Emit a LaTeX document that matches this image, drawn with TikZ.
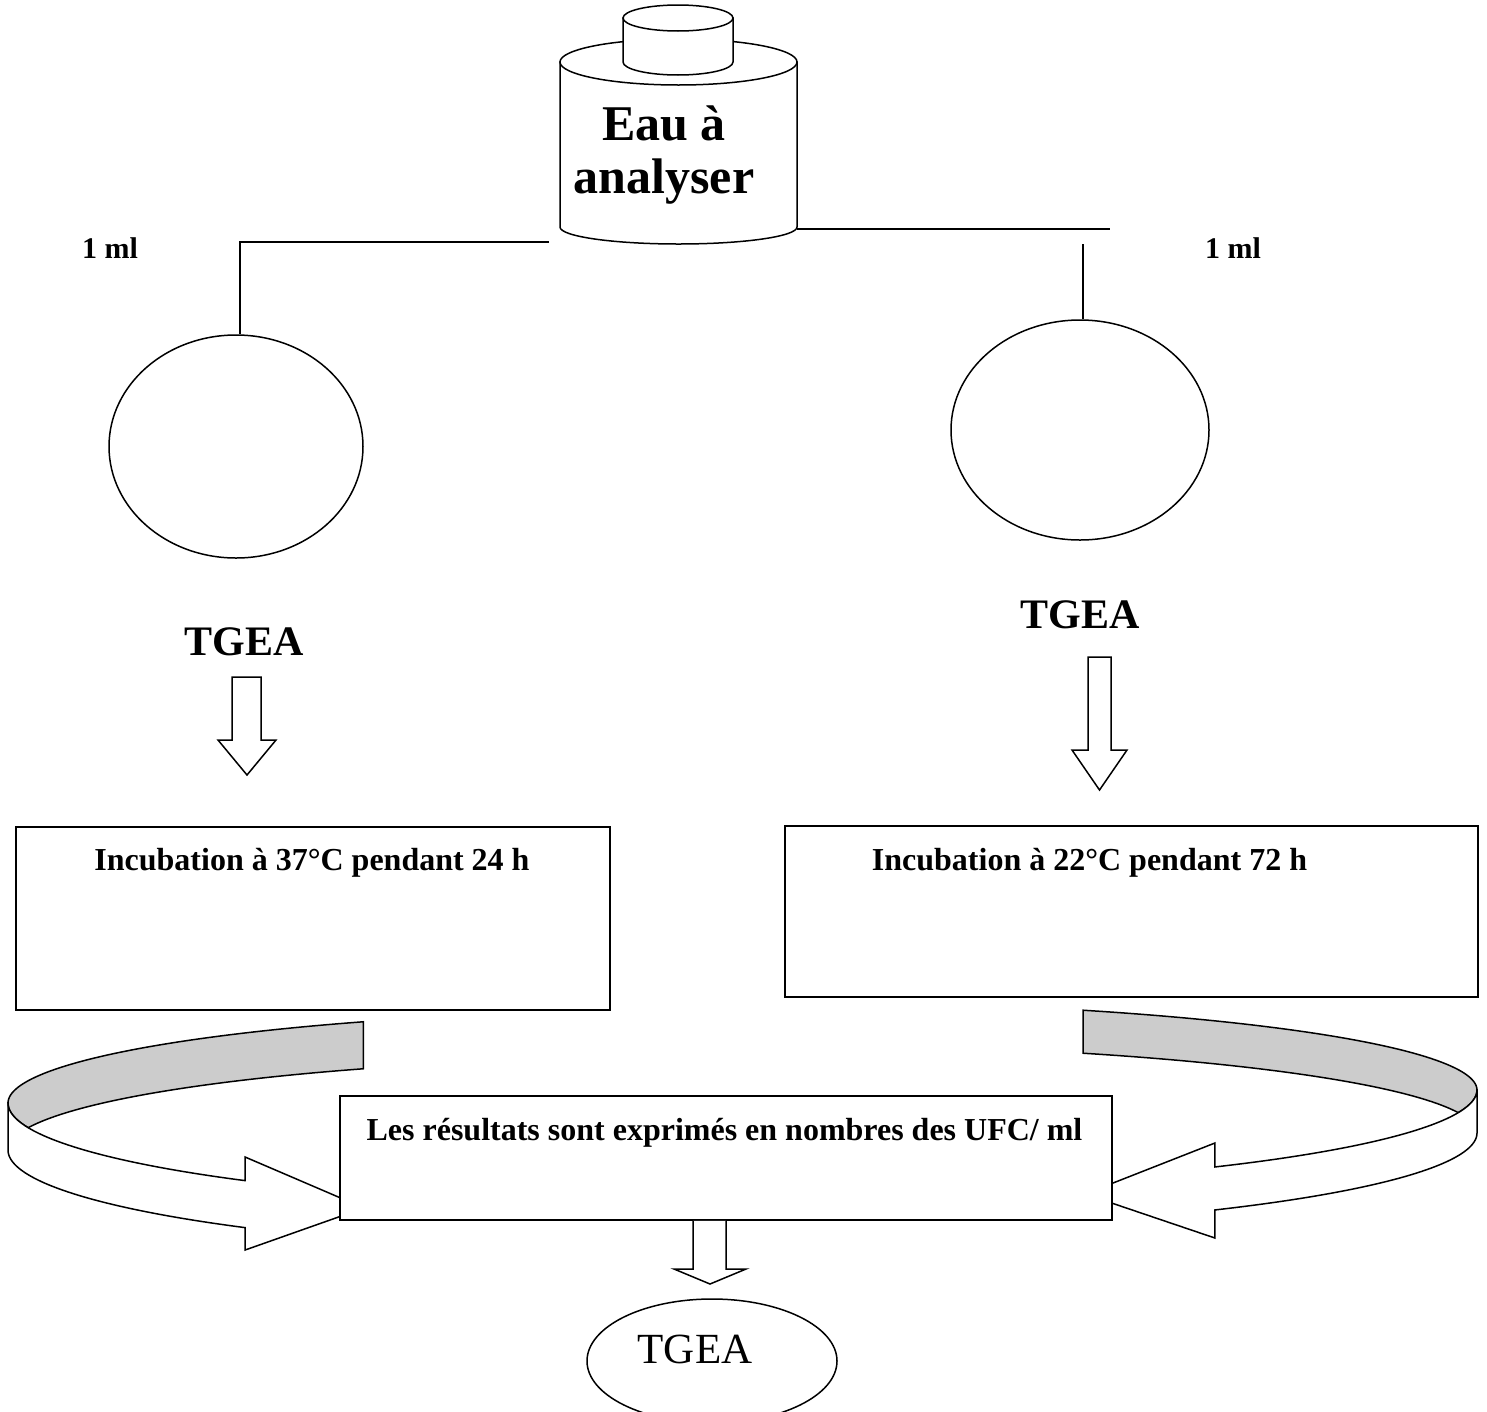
\documentclass[tikz,border=0pt]{standalone}
\usepackage{fontspec}
\setmainfont{Liberation Serif}
\usetikzlibrary{shapes.geometric}
\definecolor{ribgray}{RGB}{204,204,204}
\begin{document}
\begin{tikzpicture}[x=1pt,y=-1pt,line width=1.5pt,line join=miter,
  boxnode/.style={draw,fill=white,rectangle,inner sep=0pt},
  ovalnode/.style={draw,fill=white,ellipse,inner sep=0pt},
  lbl/.style={anchor=base,inner sep=0pt},
  hugeb/.style={font=\fontsize{50}{45}\selectfont\bfseries},
  bigb/.style={font=\fontsize{42}{46}\selectfont\bfseries},
  midb/.style={font=\fontsize{32}{36}\selectfont\bfseries},
  smallb/.style={font=\fontsize{30}{34}\selectfont\bfseries},
  bigr/.style={font=\fontsize{43}{48}\selectfont},
  blockarrow/.style={draw,fill=white},
  ribback/.style={draw,fill=ribgray},
  ribfront/.style={draw,fill=white}]
\useasboundingbox (0,0) rectangle (1487,1411);
\clip (0,0) rectangle (1487,1411);

% ---- bottle ----
\path[draw,fill=white] (560,62) -- (560,227)
  arc[start angle=180,end angle=360,x radius=118.5pt,y radius=17pt] -- (797,62) -- cycle;
\draw[fill=white] (678.5,62) ellipse [x radius=118.5pt,y radius=23pt];
\path[draw,fill=white] (623,18) -- (623,62)
  arc[start angle=180,end angle=360,x radius=55pt,y radius=13pt] -- (733,18) -- cycle;
\draw[fill=white] (678,18) ellipse [x radius=55pt,y radius=13pt];
\node[lbl,hugeb] (eau1) at (664,140) {Eau à};
\node[lbl,hugeb] (eau2) at (664,193) {analyser};

% ---- circles ----
\node[ovalnode,minimum width=254pt,minimum height=223pt] (c1) at (236,446.5) {};
\node[ovalnode,minimum width=258pt,minimum height=220pt] (c2) at (1080,430) {};

% ---- connectors from bottle ----
\coordinate (bl) at (549,242);
\coordinate (br0) at (797,229);
\coordinate (br) at (1110,229);
\coordinate (brv) at (1083,244);
\draw (bl) -| ([xshift=4pt]c1.north);
\draw (br0) -- (br);
\draw (brv) -- ([xshift=3pt]c2.north);

\node[lbl,smallb] (ml1) at (110,258) {1 ml};
\node[lbl,smallb] (ml2) at (1233,258) {1 ml};

% ---- TGEA labels ----
\node[lbl,bigb] (t1) at (244,655) {TGEA};
\node[lbl,bigb] (t2) at (1080,628) {TGEA};

% ---- block arrows ----
\path[blockarrow] (232,677) -- (232,740) -- (218,740) -- (247,775) -- (276,740) -- (261,740) -- (261,677) -- cycle;
\path[blockarrow] (1088,657) -- (1088,750) -- (1072,750) -- (1099.5,790) -- (1127,750) -- (1111,750) -- (1111,657) -- cycle;

% ---- incubation boxes ----
\node[boxnode,minimum width=594pt,minimum height=183pt] (r1) at (313,918.5) {};
\node[boxnode,minimum width=693pt,minimum height=171pt] (r2) at (1131.5,911.5) {};
\node[lbl,midb] (i1) at (312,870) {Incubation à 37°C pendant 24 h};
\node[lbl,midb] (i2) at (1089.5,870) {Incubation à 22°C pendant 72 h};

% ---- left curved ribbon arrow ----
\path[ribback]
  plot[domain=119.1:180,samples=50] ({700+692*cos(\x)},{1103-93*sin(\x)})
  -- plot[domain=180:193.9,samples=12] ({700+692*cos(\x)},{1103-103*sin(\x)})
  -- plot[domain=166.1:119.1,samples=50] ({700+692*cos(\x)},{1150-93*sin(\x)})
  -- cycle;
\path[ribfront] (8,1103) -- (8,1150)
  -- plot[domain=180:228.9,samples=50] ({700+692*cos(\x)},{1150-103*sin(\x)})
  -- (245.1,1250) -- (364,1208) -- (245.1,1157)
  -- plot[domain=228.9:180,samples=50] ({700+692*cos(\x)},{1103-103*sin(\x)})
  -- cycle;

% ---- right curved ribbon arrow ----
\path[ribback]
  plot[domain=63.7:0,samples=50] ({770+707*cos(\x)},{1090-89*sin(\x)})
  -- plot[domain=0:-13.2,samples=12] ({770+707*cos(\x)},{1090-99*sin(\x)})
  -- plot[domain=13.2:63.7,samples=50] ({770+707*cos(\x)},{1133-89*sin(\x)})
  -- cycle;
\path[ribfront] (1477,1090) -- (1477,1133)
  -- plot[domain=0:-51,samples=50] ({770+707*cos(\x)},{1133-99*sin(\x)})
  -- (1214.9,1238) -- (1085,1194) -- (1214.9,1143)
  -- plot[domain=-51:0,samples=50] ({770+707*cos(\x)},{1090-99*sin(\x)})
  -- cycle;

% ---- results box ----
\node[boxnode,minimum width=772pt,minimum height=124pt] (res) at (726,1158) {};
\node[lbl,midb] (restext) at (724.5,1140) {Les résultats sont exprimés en nombres des UFC/ ml};

% ---- bottom arrow and oval ----
\path[blockarrow] (res.south -| 693,0) -- (693,1269) -- (674,1269) -- (710,1284) -- (746,1269) -- (726,1269) -- (res.south -| 726,0);
\node[ovalnode,minimum width=250pt,minimum height=124pt] (final) at (712,1361) {};
\node[lbl,bigr] (finaltext) at (695,1363) {TGEA};
\end{tikzpicture}
\end{document}
